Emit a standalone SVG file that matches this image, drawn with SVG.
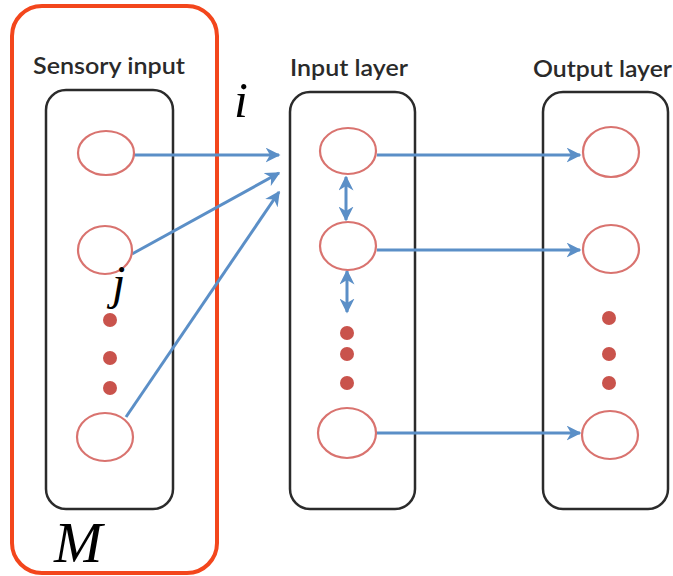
<svg xmlns="http://www.w3.org/2000/svg" width="673" height="576" viewBox="0 0 673 576">
<defs>
<marker id="ah" viewBox="0 0 10 10" refX="9" refY="5" markerWidth="5" markerHeight="5" orient="auto-start-reverse" markerUnits="strokeWidth">
<path d="M0,0 L10,5 L0,10 L3,5 z" fill="#5b8fc7"/>
</marker>
<style>
.layer{fill:none;stroke:#2b2b2b;stroke-width:2.5}
.node{fill:#fff;stroke:#d9736f;stroke-width:2.2}
.dot{fill:#c9534c}
.lbl{font-family:Lato,"Open Sans",sans-serif;font-size:22px;font-weight:600;fill:#2a2a2a}
.var{font-family:"Liberation Serif","Times New Roman",serif;font-style:italic;fill:#000}
.conn{stroke:#5b8fc7;stroke-width:3;fill:none;marker-end:url(#ah)}
.bi{marker-start:url(#ah)}
</style>
</defs>
<rect width="673" height="576" fill="#fff"/>
<g id="group-M">
<rect x="12" y="6" width="205" height="567" rx="30" fill="none" stroke="#f3461c" stroke-width="4"/>
<text class="var" x="54" y="562" font-size="58">M</text>
</g>
<g id="sensory">
<text class="lbl" x="33" y="74" textLength="152" lengthAdjust="spacingAndGlyphs">Sensory input</text>
<rect class="layer" x="46" y="90" width="127" height="419" rx="20"/>
</g>
<g id="input">
<text class="lbl" x="290" y="76" textLength="118" lengthAdjust="spacingAndGlyphs">Input layer</text>
<rect class="layer" x="290" y="92" width="125" height="417" rx="20"/>
</g>
<g id="output">
<text class="lbl" x="533" y="77" textLength="139" lengthAdjust="spacingAndGlyphs">Output layer</text>
<rect class="layer" x="543" y="92" width="125" height="417" rx="20"/>
</g>
<g id="connectors">
<line class="conn" x1="134" y1="155" x2="279" y2="155"/>
<line class="conn" x1="132" y1="254" x2="279" y2="173"/>
<line class="conn" x1="126" y1="417" x2="279" y2="192"/>
<line class="conn" x1="377" y1="155" x2="580" y2="155"/>
<line class="conn" x1="377" y1="250" x2="580" y2="250"/>
<line class="conn" x1="376" y1="433" x2="580" y2="433"/>
<line class="conn bi" x1="346" y1="177" x2="346" y2="220"/>
<line class="conn bi" x1="347" y1="271" x2="347" y2="312"/>
</g>
<g id="s1"><ellipse class="node" cx="106" cy="153" rx="28" ry="22"/></g>
<g id="s2"><ellipse class="node" cx="105" cy="250" rx="27" ry="24"/></g>
<g id="s-dots"><circle class="dot" cx="110" cy="320" r="7"/><circle class="dot" cx="110" cy="358" r="7"/><circle class="dot" cx="110" cy="388" r="7"/></g>
<g id="s3"><ellipse class="node" cx="105" cy="437" rx="28" ry="24"/></g>
<g id="i1"><ellipse class="node" cx="348" cy="151" rx="28" ry="23"/></g>
<g id="i2"><ellipse class="node" cx="348" cy="246" rx="28" ry="24"/></g>
<g id="i-dots"><circle class="dot" cx="347" cy="333" r="7"/><circle class="dot" cx="347" cy="354" r="7"/><circle class="dot" cx="347" cy="383" r="7"/></g>
<g id="i3"><ellipse class="node" cx="347" cy="433" rx="29" ry="25"/></g>
<g id="o1"><ellipse class="node" cx="611" cy="152" rx="28" ry="25"/></g>
<g id="o2"><ellipse class="node" cx="611" cy="249" rx="28" ry="24"/></g>
<g id="o-dots"><circle class="dot" cx="609" cy="318" r="7"/><circle class="dot" cx="609" cy="354" r="7"/><circle class="dot" cx="609" cy="383" r="7"/></g>
<g id="o3"><ellipse class="node" cx="610" cy="435" rx="28" ry="24"/></g>
<g id="labels">
<text class="var" x="234" y="117" font-size="50">i</text>
<text class="var" x="112" y="299" font-size="48">j</text>
</g>
</svg>
